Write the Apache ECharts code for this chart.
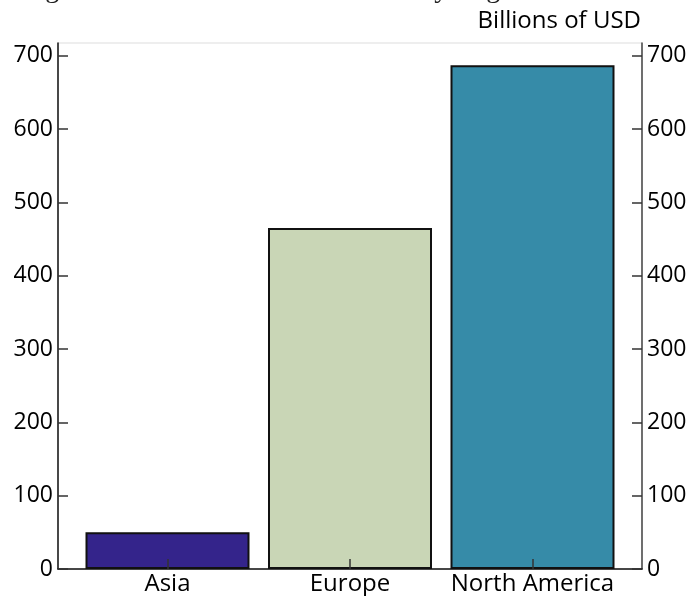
<!DOCTYPE html>
<html>
<head>
<meta charset="utf-8">
<script src="https://cdn.jsdelivr.net/npm/echarts@6/dist/echarts.min.js"></script>
<style>html,body{margin:0;padding:0;background:#fff}#c{width:695px;height:596px}</style>
</head>
<body>
<div id="c"></div>
<script>
const categories = ["Asia", "Europe", "North America"];
const values = [50, 465, 687];
const colors = ["#34248b", "#c9d6b6", "#368ba8"];
const yTicks = [0, 100, 200, 300, 400, 500, 600, 700];
const unitLabel = "Billions of USD";
const titleText = "Figure 3: Global CLO Market Size by Region";

const chart = echarts.init(document.getElementById('c'), null, {renderer: 'canvas'});
const font = "'Open Sans', sans-serif";
const barData = values.map((v, i) => ({value: [i, v], itemStyle: {color: colors[i]}}));
const yAxisCommon = {
  type: 'value', min: 0, max: 717.5,
  splitLine: {show: false},
  axisTick: {show: true, inside: true, length: 10, customValues: yTicks, lineStyle: {color: '#333', width: 1.5}},
  axisLabel: {customValues: yTicks, fontSize: 23, color: '#000', fontFamily: font, margin: 5},
  z: 10
};
chart.setOption({
  animation: false,
  graphic: [
    {type: 'text', left: 22, top: -24, style: {text: titleText, font: "28px 'Liberation Serif', serif", fill: '#222'}},
    {type: 'text', right: 54, top: 9, style: {text: unitLabel, font: "24px " + font, fill: '#000'}}
  ],
  grid: {left: 58, right: 53, top: 43, bottom: 27, show: true, borderColor: '#dddddd', borderWidth: 1},
  xAxis: {
    type: 'value', min: -0.6, max: 2.6,
    splitLine: {show: false},
    axisLine: {onZero: false, lineStyle: {color: '#111', width: 1.5}},
    axisTick: {show: true, inside: true, length: 10, customValues: [0, 1, 2], lineStyle: {color: '#333', width: 1.5}},
    axisLabel: {customValues: [0, 1, 2], formatter: v => categories[Math.round(v)] || '', fontSize: 24, color: '#000', fontFamily: font, margin: 3},
    z: 10
  },
  yAxis: [
    Object.assign({}, yAxisCommon, {position: 'left', axisLine: {show: true, onZero: false, lineStyle: {color: '#111', width: 1.5}}}),
    Object.assign({}, yAxisCommon, {position: 'right', axisLine: {show: true, onZero: false, lineStyle: {color: '#444', width: 1.5}}})
  ],
  series: [{
    type: 'bar', yAxisIndex: 0, barWidth: 164,
    itemStyle: {borderColor: '#111', borderWidth: 2},
    data: barData
  }]
});
</script>
</body>
</html>
